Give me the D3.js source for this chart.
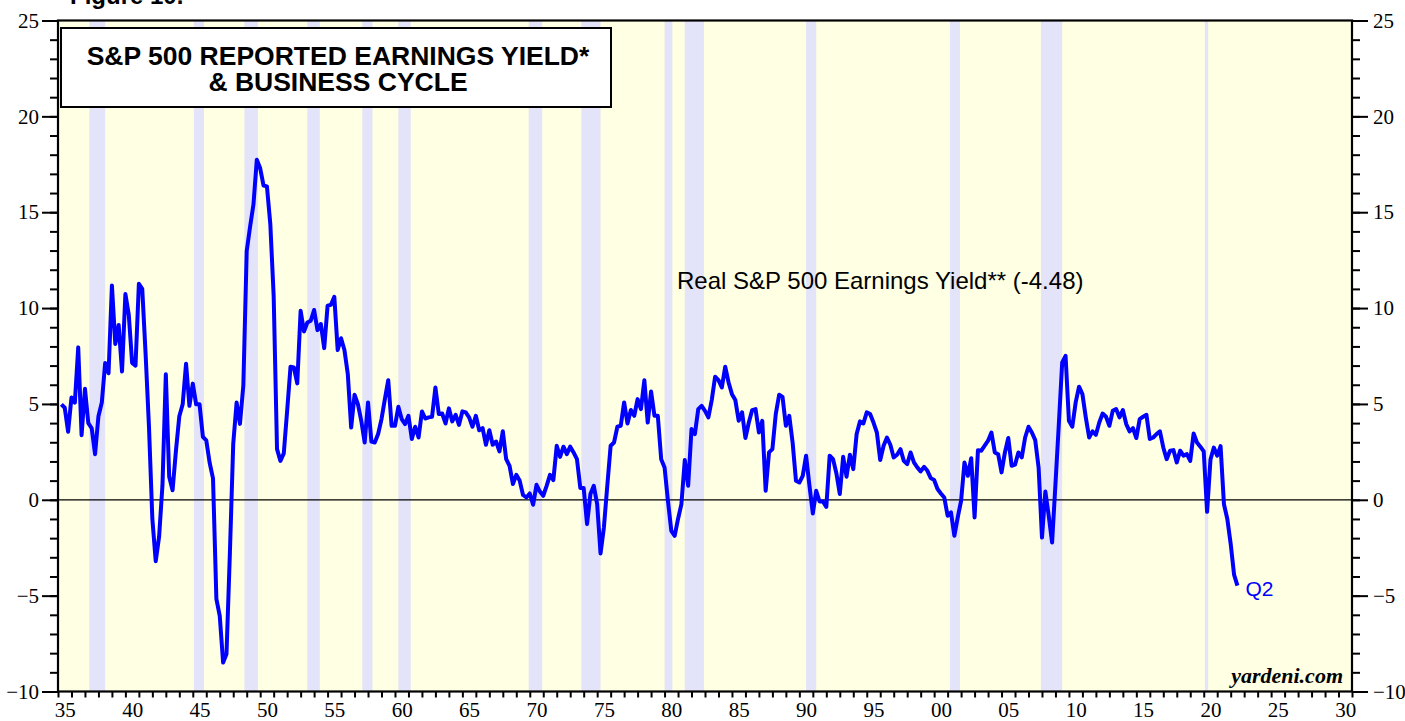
<!DOCTYPE html>
<html>
<head>
<meta charset="utf-8">
<script src="https://cdn.jsdelivr.net/npm/d3@7"></script>
<style>
body { margin: 0; background: #fff; }
svg { display: block; }
</style>
</head>
<body>
<div id="chart"></div>
<script>
// Real S&P 500 earnings yield, quarterly from 1935 Q1 to 2022 Q2 (%)
const firstQuarter = 1935;
const realYield = [
  4.98, 4.8, 3.55, 5.34,      // 1935
  5.07, 7.95, 3.37, 5.79,     // 1936
  4.0, 3.73, 2.38, 4.36,      // 1937
  5.07, 7.14, 6.6, 11.18,     // 1938
  8.13, 9.12, 6.69, 10.73,    // 1939
  9.66, 7.14, 7.0, 11.27,     // 1940
  11.0, 7.6, 3.8, -1.0,       // 1941
  -3.2, -1.93, 0.76, 6.55,    // 1942
  1.2, 0.5, 2.56, 4.36,       // 1943
  4.98, 7.1, 4.9, 6.06,       // 1944
  4.98, 4.98, 3.28, 3.1,      // 1945
  1.93, 1.12, -5.17, -6.06,   // 1946
  -8.49, -8.04, -2.83, 2.92,  // 1947
  5.07, 3.96, 5.97, 12.98,    // 1948
  14.24, 15.4, 17.74, 17.29,  // 1949
  16.39, 16.35, 14.4, 10.64,  // 1950
  2.64, 2.03, 2.42, 4.64,     // 1951
  6.94, 6.9, 6.07, 9.86,      // 1952
  8.78, 9.25, 9.34, 9.9,      // 1953
  8.85, 9.17, 7.91, 10.12,    // 1954
  10.17, 10.59, 7.81, 8.43,   // 1955
  7.81, 6.56, 3.77, 5.48,     // 1956
  4.99, 4.12, 2.99, 5.08,     // 1957
  3.04, 2.99, 3.43, 4.21,     // 1958
  5.25, 6.24, 3.86, 3.86,     // 1959
  4.85, 4.21, 3.95, 4.38,     // 1960
  3.17, 3.81, 3.25, 4.61,     // 1961
  4.24, 4.3, 4.33, 5.86,      // 1962
  4.47, 4.5, 3.98, 4.77,      // 1963
  4.09, 4.43, 3.91, 4.61,     // 1964
  4.56, 4.3, 3.81, 4.38,      // 1965
  3.63, 3.74, 2.87, 3.63,     // 1966
  2.87, 3.04, 2.52, 3.57,     // 1967
  2.12, 1.77, 0.82, 1.3,      // 1968
  1.0, 0.25, 0.12, 0.33,      // 1969
  -0.26, 0.78, 0.43, 0.21,    // 1970
  0.73, 1.3, 1.03, 2.82,      // 1971
  2.24, 2.77, 2.38, 2.77,     // 1972
  2.47, 2.12, 0.61, 0.61,     // 1973
  -1.27, 0.3, 0.73, -0.23,    // 1974
  -2.8, -1.44, 0.73, 2.82,    // 1975
  2.99, 3.81, 3.86, 5.08,     // 1976
  3.98, 4.68, 4.38, 5.25,     // 1977
  4.73, 6.24, 4.03, 5.65,     // 1978
  4.38, 4.38, 2.12, 1.69,     // 1979
  -0.05, -1.62, -1.88, -1.0,  // 1980
  -0.23, 2.07, 0.73, 3.69,    // 1981
  3.43, 4.73, 4.9, 4.64,      // 1982
  4.3, 5.2, 6.42, 6.24,       // 1983
  5.86, 6.94, 6.12, 5.51,     // 1984
  5.2, 4.12, 4.56, 3.22,      // 1985
  4.03, 4.68, 4.73, 3.51,     // 1986
  4.12, 0.47, 2.47, 2.64,     // 1987
  4.47, 5.48, 5.37, 3.86,     // 1988
  4.38, 2.99, 0.99, 0.9,      // 1989
  1.25, 2.3, 0.73, -0.71,     // 1990
  0.47, -0.09, -0.09, -0.37,  // 1991
  2.3, 2.12, 1.37, 0.3,       // 1992
  2.24, 1.2, 2.35, 1.6,       // 1993
  3.43, 4.09, 3.98, 4.56,     // 1994
  4.47, 4.03, 3.51, 2.07,     // 1995
  2.82, 3.25, 2.87, 2.21,     // 1996
  2.35, 2.64, 2.03, 1.86,     // 1997
  2.47, 1.95, 1.69, 1.48,     // 1998
  1.72, 1.51, 1.13, 1.03,     // 1999
  0.56, 0.33, 0.12, -0.83,    // 2000
  -0.66, -1.88, -0.92, -0.05, // 2001
  1.95, 1.25, 2.17, -0.92,    // 2002
  2.59, 2.56, 2.82, 3.08,     // 2003
  3.51, 2.47, 2.38, 1.43,     // 2004
  2.47, 3.22, 1.77, 1.83,     // 2005
  2.47, 2.21, 3.25, 3.81,     // 2006
  3.51, 3.11, 1.69, -1.97,    // 2007
  0.43, -0.83, -2.23, 0.82,   // 2008
  3.95, 7.17, 7.51, 4.12,     // 2009
  3.81, 5.08, 5.9, 5.51,      // 2010
  4.3, 3.25, 3.57, 3.39,      // 2011
  4.03, 4.5, 4.33, 3.86,      // 2012
  4.64, 4.73, 4.3, 4.68,      // 2013
  3.95, 3.57, 3.74, 3.22,     // 2014
  4.21, 4.33, 4.43, 3.17,     // 2015
  3.25, 3.43, 3.57, 2.73,     // 2016
  2.12, 2.56, 2.59, 1.95,     // 2017
  2.56, 2.3, 2.38, 2.03,      // 2018
  3.46, 2.99, 2.77, 2.52,     // 2019
  -0.63, 2.1, 2.72, 2.3,      // 2020
  2.8, -0.23, -1.0, -2.3,     // 2021
  -3.9, -4.48                 // 2022
];

// NBER recessions, [start, end] in decimal years
const recessions = [
  [1937.33, 1938.5], [1945.08, 1945.83], [1948.83, 1949.83], [1953.5, 1954.42],
  [1957.58, 1958.33], [1960.25, 1961.17], [1969.92, 1970.92], [1973.83, 1975.25],
  [1980.0, 1980.58], [1981.5, 1982.92], [1990.5, 1991.25], [2001.17, 2001.92],
  [2007.92, 2009.5], [2020.08, 2020.33]
];

const yTicks = [-10, -5, 0, 5, 10, 15, 20, 25];
const xLabelYears = [1935, 1940, 1945, 1950, 1955, 1960, 1965, 1970, 1975, 1980,
  1985, 1990, 1995, 2000, 2005, 2010, 2015, 2020, 2025, 2030];

const width = 1405, height = 721;
const plotLeft = 58, plotRight = 1352, plotTop = 20.5, plotBottom = 691.5;

const svg = d3.select("#chart").append("svg")
  .attr("width", width)
  .attr("height", height);

const x = d3.scaleLinear().domain([1935, 2031]).range([plotLeft, plotRight]);
const y = d3.scaleLinear().domain([-10, 25]).range([plotBottom, plotTop]);

// plot background
svg.append("rect")
  .attr("x", plotLeft).attr("y", plotTop)
  .attr("width", plotRight - plotLeft).attr("height", plotBottom - plotTop)
  .attr("fill", "#ffffe3");

// recession bands
svg.append("g")
  .selectAll("rect")
  .data(recessions)
  .join("rect")
  .attr("x", d => x(d[0]))
  .attr("y", plotTop)
  .attr("width", d => x(d[1]) - x(d[0]))
  .attr("height", plotBottom - plotTop)
  .attr("fill", "#e3e3f9");

// zero line
svg.append("line")
  .attr("x1", plotLeft).attr("x2", plotRight)
  .attr("y1", y(0)).attr("y2", y(0))
  .attr("stroke", "#000")
  .attr("stroke-width", 1.2);

// data line, each quarter drawn at its quarter end
const points = realYield.map((v, i) => ({ t: firstQuarter + (i + 1) / 4, v: v }));

const line = d3.line()
  .x(d => x(d.t))
  .y(d => y(d.v));

svg.append("path")
  .datum(points)
  .attr("fill", "none")
  .attr("stroke", "#0000ff")
  .attr("stroke-width", 4)
  .attr("stroke-linejoin", "round")
  .attr("d", line);

// frame
svg.append("rect")
  .attr("x", plotLeft).attr("y", plotTop)
  .attr("width", plotRight - plotLeft).attr("height", plotBottom - plotTop)
  .attr("fill", "none")
  .attr("stroke", "#000")
  .attr("stroke-width", 2.2);

// axes
function styleAxis(g) {
  g.select(".domain").remove();
  g.selectAll(".tick line").attr("stroke", "#000").attr("stroke-width", 2);
  g.selectAll(".tick text")
    .attr("fill", "#000")
    .style("font-family", "'Liberation Serif', 'Times New Roman', serif")
    .style("font-size", "21px");
}

svg.append("g")
  .attr("transform", `translate(${plotLeft},0)`)
  .call(d3.axisLeft(y).tickValues(d3.range(-10, 26)).tickSize(8).tickFormat(""))
  .call(styleAxis);
svg.append("g")
  .attr("transform", `translate(${plotLeft},0)`)
  .call(d3.axisLeft(y).tickValues(yTicks).tickSize(16).tickPadding(3))
  .call(styleAxis);

svg.append("g")
  .attr("transform", `translate(${plotRight},0)`)
  .call(d3.axisRight(y).tickValues(d3.range(-10, 26)).tickSize(8).tickFormat(""))
  .call(styleAxis);
svg.append("g")
  .attr("transform", `translate(${plotRight},0)`)
  .call(d3.axisRight(y).tickValues(yTicks).tickSize(16).tickPadding(5))
  .call(styleAxis);

svg.append("g")
  .attr("transform", `translate(0,${plotBottom})`)
  .call(d3.axisBottom(x).tickValues(d3.range(1935, 2032)).tickSize(6).tickFormat(""))
  .call(styleAxis);
svg.append("g")
  .attr("transform", `translate(0,${plotBottom})`)
  .call(d3.axisBottom(x)
    .tickValues(xLabelYears.map(yr => yr + 0.5))
    .tickSize(0)
    .tickPadding(11)
    .tickFormat(d => String(Math.floor(d) % 100).padStart(2, "0")))
  .call(styleAxis);

// title box
svg.append("rect")
  .attr("x", 61).attr("y", 28)
  .attr("width", 550).attr("height", 79)
  .attr("fill", "#fff")
  .attr("stroke", "#000")
  .attr("stroke-width", 2);

const title = svg.append("text")
  .attr("text-anchor", "middle")
  .style("font-family", "'Liberation Sans', Arial, sans-serif")
  .style("font-weight", "bold")
  .style("font-size", "26.5px");
title.append("tspan").attr("x", 338).attr("y", 65).text("S&P 500 REPORTED EARNINGS YIELD*");
title.append("tspan").attr("x", 338).attr("y", 91).text("& BUSINESS CYCLE");

svg.append("text")
  .attr("x", 70).attr("y", 4)
  .style("font-family", "'Liberation Sans', Arial, sans-serif")
  .style("font-weight", "bold")
  .style("font-size", "24px")
  .text("Figure 10.");

svg.append("text")
  .attr("x", 677).attr("y", 289)
  .style("font-family", "'Liberation Sans', Arial, sans-serif")
  .style("font-size", "24px")
  .text("Real S&P 500 Earnings Yield** (-4.48)");

const last = points[points.length - 1];
svg.append("text")
  .attr("x", x(last.t) + 8).attr("y", y(last.v) + 10)
  .attr("fill", "#0000ff")
  .style("font-family", "'Liberation Sans', Arial, sans-serif")
  .style("font-size", "21px")
  .text("Q2");

svg.append("text")
  .attr("x", 1343).attr("y", 683)
  .attr("text-anchor", "end")
  .style("font-family", "'Liberation Serif', 'Times New Roman', serif")
  .style("font-weight", "bold")
  .style("font-style", "italic")
  .style("font-size", "22px")
  .text("yardeni.com");
</script>
</body>
</html>
